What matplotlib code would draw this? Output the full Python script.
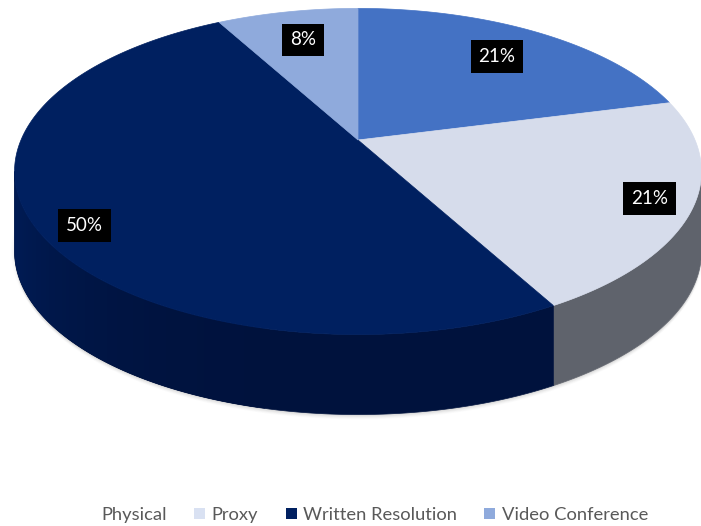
import numpy as np
import matplotlib
matplotlib.use("Agg")
import matplotlib.pyplot as plt
from matplotlib.patches import Polygon, Patch
from matplotlib.colors import to_rgb

# ---- data ----
categories = ["Physical", "Proxy", "Written Resolution", "Video Conference"]
values = [21, 21, 50, 8]
labels = ["21%", "21%", "50%", "8%"]

# ---- style ----
top_colors = ["#4472C4", "#D6DCEB", "#002060", "#8FAADC"]
side_colors = ["#2F5597", "#5F636C", "#00123D", "#6680B0"]
legend_colors = [None, "#D9E1F2", "#002060", "#8FAADC"]
label_r = [0.75, 0.88, 0.885, 0.75]
label_dang = [0, 0, 5, 0]

W, H = 701, 526
fig = plt.figure(figsize=(W / 100, H / 100), dpi=100)
ax = fig.add_axes([0, 0, 1, 1])
ax.set_xlim(0, W)
ax.set_ylim(H, 0)
ax.axis("off")

# perspective disk projection (screen pixel space)
cx, cy, sx, a, k = 358.0, 140.0, 337.0, 157.0, 0.193
depth = 80.0


def proj(theta_deg, r=1.0):
    t = np.radians(theta_deg)
    u = r * np.cos(t)
    v = r * np.sin(t)
    w = 1 + k * v
    return cx + sx * u / w, cy - a * v / w


total = float(sum(values))
bounds = [90.0]
for val in values:
    bounds.append(bounds[-1] - 360.0 * val / total)

vis_lo = -180 + np.degrees(np.arcsin(k))
vis_hi = -np.degrees(np.arcsin(k))
th_all = np.linspace(0, 360, 400)

# soft shadow
for i, al in zip(range(6, 0, -1), [0.03, 0.04, 0.05, 0.06, 0.07, 0.08]):
    xs, ys = proj(th_all)
    ax.add_patch(Polygon(np.column_stack([xs, ys + depth + i * 0.8]),
                         closed=True, facecolor="#808080", edgecolor="none",
                         alpha=al, zorder=1))
    ax.add_patch(Polygon(np.column_stack([xs + (1 if i % 2 else -1) * i * 0.6, ys + depth]),
                         closed=True, facecolor="#808080", edgecolor="none",
                         alpha=al * 0.6, zorder=1))
xs, ys = proj(th_all)
ax.add_patch(Polygon(np.column_stack([xs, ys + depth]), closed=True,
                     facecolor="white", edgecolor="none", zorder=1.5))

# rims (front-visible part): flat base + shaded strips
for i in range(len(values)):
    hi, lo = bounds[i], bounds[i + 1]
    sc = np.array(to_rgb(side_colors[i]))
    tc = np.array(to_rgb(top_colors[i]))
    for shift in (0, -360, 360):
        a_lo = max(lo + shift, vis_lo)
        a_hi = min(hi + shift, vis_hi)
        if a_hi > a_lo:
            th = np.linspace(a_lo, a_hi, 200)
            x1, y1 = proj(th)
            pts = np.vstack([np.column_stack([x1, y1]),
                             np.column_stack([x1[::-1], y1[::-1] + depth])])
            ax.add_patch(Polygon(pts, closed=True, facecolor=sc,
                                 edgecolor=sc, lw=0.5, zorder=2))
            n = max(2, int((a_hi - a_lo) / 1.0) + 1)
            edges = np.linspace(a_lo, a_hi, n)
            step = edges[1] - edges[0]
            for j in range(n - 1):
                m = np.radians((edges[j] + edges[j + 1]) / 2)
                s = np.clip(-np.cos(m), 0, 1) ** 3 * 0.75
                if s < 0.01:
                    continue
                e0 = max(a_lo, edges[j] - step * 0.5)
                e1 = min(a_hi, edges[j + 1] + step * 0.5)
                th = np.linspace(e0, e1, 5)
                x1, y1 = proj(th)
                pts = np.vstack([np.column_stack([x1, y1]),
                                 np.column_stack([x1[::-1], y1[::-1] + depth])])
                col = sc + (tc - sc) * s
                ax.add_patch(Polygon(pts, closed=True, facecolor=col,
                                     edgecolor="none", zorder=2.1 + j * 1e-4))

# top faces
for i in range(len(values)):
    hi, lo = bounds[i], bounds[i + 1]
    th = np.linspace(hi, lo, 300)
    x1, y1 = proj(th)
    c0 = proj(0, 0)
    pts = np.vstack([[c0[0], c0[1]], np.column_stack([x1, y1])])
    ax.add_patch(Polygon(pts, closed=True, facecolor=top_colors[i],
                         edgecolor=top_colors[i], lw=0.5, zorder=3))

# labels
for i in range(len(values)):
    mid = (bounds[i] + bounds[i + 1]) / 2 + label_dang[i]
    lx, ly = proj(mid, label_r[i])
    ax.text(lx, ly, labels[i], color="white", fontsize=13.5, family="Lato",
            ha="center", va="center", zorder=5,
            bbox=dict(boxstyle="square,pad=0.42", facecolor="black", edgecolor="none"))

# legend
handles = []
for i, c in enumerate(categories):
    if legend_colors[i] is None:
        handles.append(Patch(facecolor="none", edgecolor="none", label=c))
    else:
        handles.append(Patch(facecolor=legend_colors[i], edgecolor="none", label=c))
leg = fig.legend(handles=handles, loc="center", bbox_to_anchor=(366 / W, 1 - 515 / H),
                 ncol=4, frameon=False, prop={"family": "Lato", "size": 13.2},
                 handlelength=0.6, handleheight=0.6, handletextpad=0.35,
                 columnspacing=1.5)
for t in leg.get_texts():
    t.set_color("#595959")

fig.savefig("out.png", dpi=100)
